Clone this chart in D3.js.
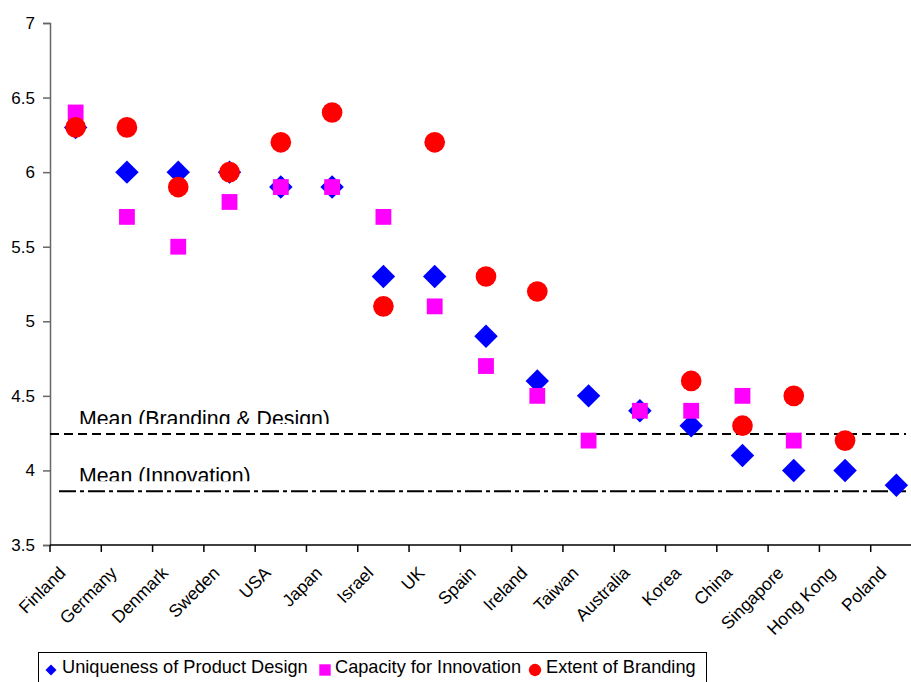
<!DOCTYPE html>
<html>
<head>
<meta charset="utf-8">
<script src="https://cdn.jsdelivr.net/npm/d3@7"></script>
<style>
  body { margin: 0; background: #fff; overflow: hidden; }
  text { font-family: Arial, "Liberation Sans", sans-serif; fill: #000; }
</style>
</head>
<body>
<script>
// donnees
const pays = ['Finland','Germany','Denmark','Sweden','USA','Japan','Israel','UK','Spain',
  'Ireland','Taiwan','Australia','Korea','China','Singapore','Hong Kong','Poland'];
const design = [6.3, 6.0, 6.0, 6.0, 5.9, 5.9, 5.3, 5.3, 4.9, 4.6, 4.5, 4.4, 4.3, 4.1, 4.0, 4.0, 3.9];
const innovation = [6.4, 5.7, 5.5, 5.8, 5.9, 5.9, 5.7, 5.1, 4.7, 4.5, 4.2, 4.4, 4.4, 4.5, 4.2, null, null];
const branding = [6.3, 6.3, 5.9, 6.0, 6.2, 6.4, 5.1, 6.2, 5.3, 5.2, null, null, 4.6, 4.3, 4.5, 4.2, null];
const moyenne_branding_design = 4.245;
const moyenne_innovation = 3.86;
const graduations = [3.5, 4, 4.5, 5, 5.5, 6, 6.5, 7];
const series = [
  { nom: 'Uniqueness of Product Design', valeurs: design, couleur: '#0000ff', forme: 'losange' },
  { nom: 'Capacity for Innovation', valeurs: innovation, couleur: '#ff00ff', forme: 'carre' },
  { nom: 'Extent of Branding', valeurs: branding, couleur: '#ff0000', forme: 'rond' }
];

const largeur = 911, hauteur = 682;
const marge = { gauche: 50, haut: 23, bas: 545, droite: 922 };

const canevas = d3.select('body')
  .append('svg')
  .attr('width', largeur)
  .attr('height', hauteur);

// echelles
const x = d3.scaleBand()
  .domain(pays)
  .range([marge.gauche, marge.droite]);
const y = d3.scaleLinear()
  .domain([3.5, 7])
  .range([marge.bas, marge.haut]);

// axe y
const axeY = canevas.append('g')
  .attr('transform', `translate(${marge.gauche},0)`)
  .call(d3.axisLeft(y).tickValues(graduations).tickFormat(d => d).tickSize(7).tickPadding(8));
axeY.select('.domain').attr('stroke', '#666').attr('stroke-width', 1.5);
axeY.selectAll('.tick line').attr('stroke', '#666').attr('stroke-width', 1.5);
axeY.selectAll('text').style('font-size', '17px').attr('fill', '#000');

// axe x : graduations aux limites des categories
const axeX = canevas.append('g')
  .attr('transform', `translate(0,${marge.bas})`);
axeX.append('line')
  .attr('x1', marge.gauche).attr('x2', largeur)
  .attr('stroke', '#000').attr('stroke-width', 1.5);
axeX.selectAll('.lim')
  .data(pays.map((p, i) => i))
  .enter().append('line')
  .attr('x1', i => x(pays[i])).attr('x2', i => x(pays[i]))
  .attr('y1', 0).attr('y2', 7)
  .attr('stroke', '#000').attr('stroke-width', 1.5);
axeX.selectAll('.etiquette')
  .data(pays)
  .enter().append('text')
  .attr('text-anchor', 'end')
  .style('font-size', '17.5px')
  .attr('transform', d => `translate(${x(d) + x.bandwidth() / 2 - 9},${29}) rotate(-45)`)
  .text(d => d);

// lignes des moyennes
const clip1 = canevas.append('clipPath').attr('id', 'clip1');
clip1.append('rect').attr('x', 0).attr('y', 0).attr('width', largeur).attr('height', y(moyenne_branding_design) - 10);
const clip2 = canevas.append('clipPath').attr('id', 'clip2');
clip2.append('rect').attr('x', 0).attr('y', y(moyenne_branding_design) + 5).attr('width', largeur)
  .attr('height', y(moyenne_innovation) - 10 - y(moyenne_branding_design) - 5);

canevas.append('line')
  .attr('x1', marge.gauche).attr('x2', 906)
  .attr('y1', y(moyenne_branding_design)).attr('y2', y(moyenne_branding_design))
  .attr('stroke', '#000').attr('stroke-width', 2)
  .attr('stroke-dasharray', '9,5');
canevas.append('text')
  .attr('x', 79).attr('y', y(moyenne_branding_design) - 8)
  .attr('clip-path', 'url(#clip1)')
  .style('font-size', '21.3px')
  .text('Mean (Branding & Design)');

canevas.append('line')
  .attr('x1', 59).attr('x2', 906)
  .attr('y1', y(moyenne_innovation)).attr('y2', y(moyenne_innovation))
  .attr('stroke', '#000').attr('stroke-width', 2)
  .attr('stroke-dasharray', '17,4,4,4');
canevas.append('text')
  .attr('x', 79).attr('y', y(moyenne_innovation) - 8)
  .attr('clip-path', 'url(#clip2)')
  .style('font-size', '21.3px')
  .text('Mean (Innovation)');

// generateur de formes
const forme = (f, taille) => {
  if (f === 'losange') return d3.symbol().type(d3.symbolSquare).size(taille)();
  if (f === 'carre') return d3.symbol().type(d3.symbolSquare).size(taille)();
  return d3.symbol().type(d3.symbolCircle).size(taille)();
};
const tailles = { losange: 275, carre: 250, rond: 335 };

// points
series.forEach(s => {
  canevas.append('g')
    .selectAll('path')
    .data(s.valeurs.map((v, i) => ({ pays: pays[i], v })).filter(d => d.v !== null))
    .enter().append('path')
    .attr('d', forme(s.forme, tailles[s.forme]))
    .attr('transform', d => `translate(${x(d.pays) + x.bandwidth() / 2},${y(d.v)})` +
      (s.forme === 'losange' ? ' rotate(45)' : ''))
    .attr('fill', s.couleur)
    .append('title')
    .text(d => `${d.pays}: ${d.v}`);
});

// legende
const legende = canevas.append('g');
legende.append('rect')
  .attr('x', 38.5).attr('y', 652.5)
  .attr('width', 668).attr('height', 40)
  .attr('fill', 'none').attr('stroke', '#000').attr('stroke-width', 1);
const posLegende = [
  { sx: 51, tx: 62 },
  { sx: 325, tx: 335 },
  { sx: 535, tx: 546 }
];
const taillesLegende = { losange: 60, carre: 130, rond: 120 };
series.forEach((s, i) => {
  legende.append('path')
    .attr('d', forme(s.forme, taillesLegende[s.forme]))
    .attr('transform', `translate(${posLegende[i].sx},${670})` + (s.forme === 'losange' ? ' rotate(45)' : ''))
    .attr('fill', s.couleur);
  legende.append('text')
    .attr('x', posLegende[i].tx).attr('y', 673)
    .style('font-size', '18.2px')
    .text(s.nom);
});
</script>
</body>
</html>
